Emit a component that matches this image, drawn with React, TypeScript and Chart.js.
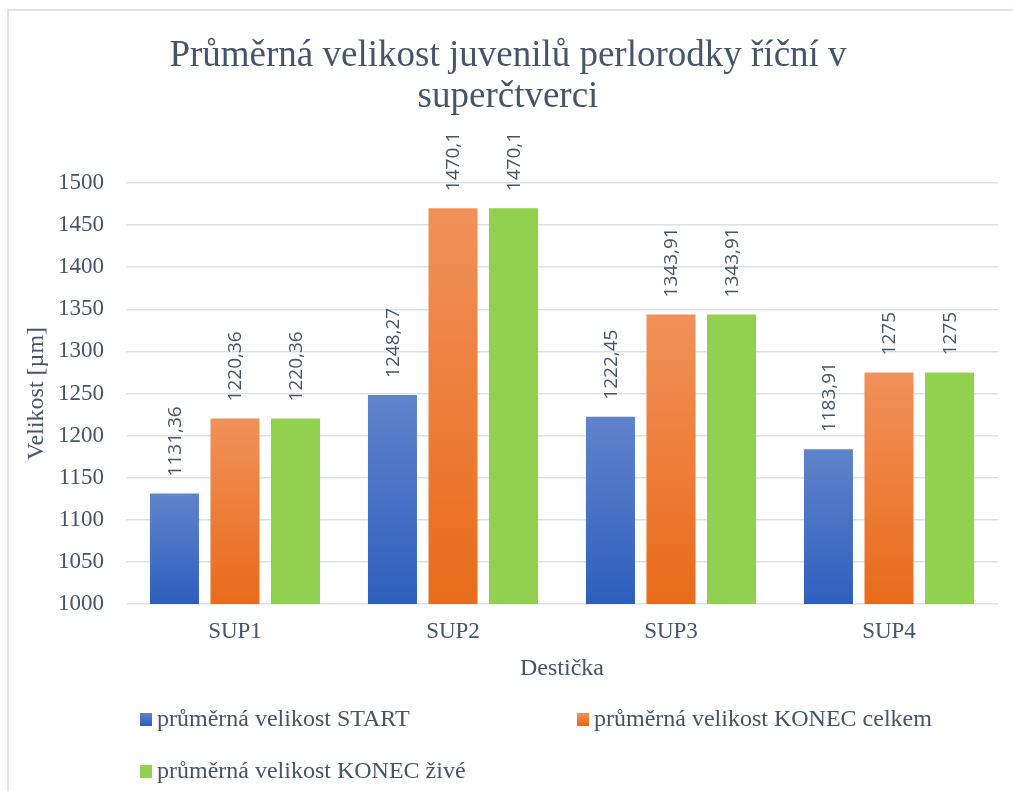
import React, { useEffect, useRef } from "react";
import { Chart, registerables } from "chart.js";

Chart.register(...registerables);

const categories = ["SUP1", "SUP2", "SUP3", "SUP4"];
const seriesNames = [
  "průměrná velikost START",
  "průměrná velikost KONEC celkem",
  "průměrná velikost KONEC živé",
];
const startValues = [1131.36, 1248.27, 1222.45, 1183.91];
const konecCelkemValues = [1220.36, 1470.1, 1343.91, 1275];
const konecZiveValues = [1220.36, 1470.1, 1343.91, 1275];
const yTicks = [1000, 1050, 1100, 1150, 1200, 1250, 1300, 1350, 1400, 1450, 1500];

const TEXT = "#44546A";
const SERIF = '"Liberation Serif", "Times New Roman", serif';
const SANS = '"Open Sans", "Noto Sans", sans-serif';

const fills: [string, string][] = [
  ["#6084cc", "#2e5ebd"],
  ["#f1915a", "#e86b1a"],
  ["#92d050", "#92d050"],
];

function barGradient(c: any, idx: number) {
  const [top, bottom] = fills[idx];
  const chart = c.chart;
  const { ctx, chartArea, scales } = chart;
  if (!chartArea || c.type !== "data" || !scales.y) return bottom;
  const v = c.raw as number;
  const yTop = scales.y.getPixelForValue(v);
  const yBot = scales.y.getPixelForValue(scales.y.min);
  if (!isFinite(yTop) || !isFinite(yBot) || yBot - yTop < 1) return bottom;
  const g = ctx.createLinearGradient(0, yTop, 0, yBot);
  g.addColorStop(0, top);
  g.addColorStop(1, bottom);
  return g;
}

const fmt = (v: number) => String(v).replace(".", ",");

const valueLabels = {
  id: "valueLabels",
  afterDatasetsDraw(chart: any) {
    const ctx = chart.ctx;
    ctx.save();
    ctx.font = `19px ${SANS}`;
    ctx.fillStyle = TEXT;
    ctx.textAlign = "left";
    ctx.textBaseline = "middle";
    chart.data.datasets.forEach((ds: any, i: number) => {
      const meta = chart.getDatasetMeta(i);
      meta.data.forEach((el: any, j: number) => {
        ctx.save();
        ctx.translate(el.x + 1, el.y - 17);
        ctx.rotate(-Math.PI / 2);
        ctx.fillText(fmt(ds.data[j]), 0, 0);
        ctx.restore();
      });
    });
    ctx.restore();
  },
};

const customLegend = {
  id: "customLegend",
  afterDraw(chart: any) {
    const ctx = chart.ctx;
    const slots = [
      { x: 140, y: 713 },
      { x: 577, y: 713 },
      { x: 140, y: 765 },
    ];
    ctx.save();
    ctx.font = `24px ${SERIF}`;
    ctx.textAlign = "left";
    ctx.textBaseline = "alphabetic";
    chart.data.datasets.forEach((ds: any, i: number) => {
      const s = slots[i];
      const [top, bottom] = fills[i];
      const g = ctx.createLinearGradient(0, s.y, 0, s.y + 12);
      g.addColorStop(0, top);
      g.addColorStop(1, bottom);
      ctx.fillStyle = g;
      ctx.fillRect(s.x, s.y, 12, 13);
      ctx.fillStyle = TEXT;
      ctx.fillText(ds.label, s.x + 17, s.y + 13);
    });
    ctx.restore();
  },
};

export default function App() {
  const ref = useRef<HTMLCanvasElement>(null);

  useEffect(() => {
    document.body.style.margin = "0";
    if (!ref.current) return;
    const data = [startValues, konecCelkemValues, konecZiveValues];
    const chart = new Chart(ref.current, {
      type: "bar",
      data: {
        labels: categories,
        datasets: data.map((d, i) => ({
          label: seriesNames[i],
          data: d,
          backgroundColor: (c: any) => barGradient(c, i),
          borderWidth: 0,
          categoryPercentage: 0.833,
          barPercentage: 0.81,
        })),
      },
      options: {
        animation: false,
        responsive: true,
        maintainAspectRatio: false,
        layout: { padding: { left: 18, right: 15, top: 0, bottom: 103.7 } },
        plugins: {
          legend: { display: false },
          tooltip: { enabled: false },
          title: {
            display: true,
            text: ["Průměrná velikost juvenilů perlorodky říční v", "superčtverci"],
            color: TEXT,
            font: { family: SERIF, size: 37, weight: "normal", lineHeight: 1.1 },
            padding: { top: 36, bottom: 65.6 },
          },
        },
        scales: {
          x: {
            grid: { display: false, drawTicks: false },
            border: { display: false },
            ticks: {
              color: TEXT,
              font: { family: SERIF, size: 23 },
              padding: 14,
            },
            title: {
              display: true,
              text: "Destička",
              color: TEXT,
              font: { family: SERIF, size: 24 },
              padding: { top: 4, bottom: 4 },
            },
            afterFit: (s: any) => {
              s.height = 83.3;
            },
          },
          y: {
            min: 1000,
            max: 1500,
            afterBuildTicks: (s: any) => {
              s.ticks = yTicks.map((v) => ({ value: v }));
            },
            grid: { color: "#dde1e7", lineWidth: 1.5, drawTicks: false },
            border: { display: false },
            ticks: {
              color: TEXT,
              font: { family: SERIF, size: 23 },
              padding: 22,
              callback: (v: any) => String(v),
            },
            title: {
              display: true,
              text: "Velikost [µm]",
              color: TEXT,
              font: { family: SERIF, size: 24 },
              padding: { top: 4, bottom: 4 },
            },
            afterFit: (s: any) => {
              s.width = 108;
            },
          },
        },
      },
      plugins: [valueLabels, customLegend],
    });
    return () => chart.destroy();
  }, []);

  return (
    <div style={{ position: "relative", width: 1013, height: 791, overflow: "hidden", background: "#fff" }}>
      <div
        style={{
          position: "absolute",
          left: 7,
          top: 9,
          width: 1100,
          height: 900,
          border: "2px solid #dfe3ea",
          boxSizing: "border-box",
        }}
      />
      <div style={{ position: "absolute", left: 0, top: 0, width: 1013, height: 791 }}>
        <canvas ref={ref} />
      </div>
    </div>
  );
}
